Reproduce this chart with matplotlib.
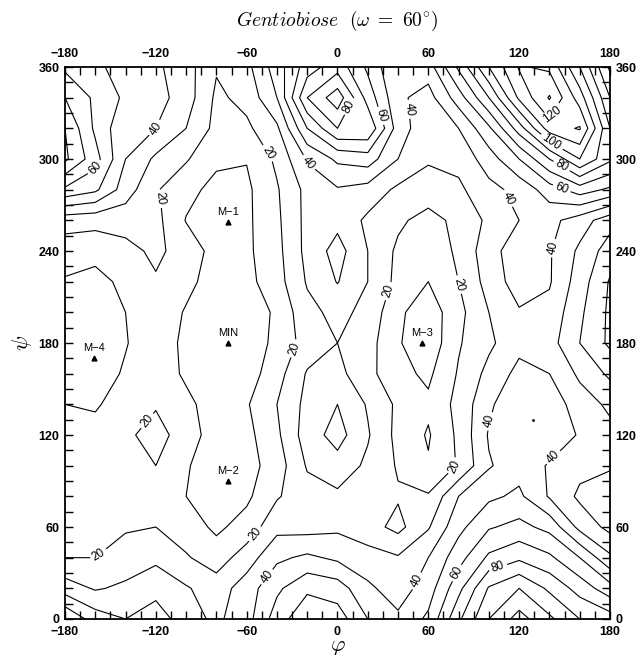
import numpy as np
import matplotlib

matplotlib.use("Agg")
import matplotlib.pyplot as plt

plt.rcParams["mathtext.fontset"] = "cm"

# map grid (degrees)
phi_deg = list(range(-180, 181, 20))
psi_deg = list(range(0, 361, 20))

# relative energy, one row per psi, from psi = 360 down to psi = 0
energy_top_down = [
    [58, 52, 46, 42, 34, 21, 27, 45, 65, 76, 58, 40, 45, 72, 100, 121, 118, 90, 58],
    [70, 58, 48, 44, 35, 18, 23, 40, 80, 96, 66, 42, 36, 55, 80, 112, 131, 105, 70],
    [80, 58, 42, 40, 30, 17, 18, 28, 60, 80, 79, 45, 33, 40, 58, 85, 115, 121, 80],
    [82, 64, 40, 28, 21, 12, 10.5, 22, 41, 52, 55, 40, 31, 33, 45, 60, 80, 100, 82],
    [58, 52, 35, 21, 13, 7, 8, 19, 33, 39, 36, 28, 26, 28, 37, 43, 55, 65, 58],
    [24, 23, 24, 23, 9.5, 4, 8, 18, 33, 37, 28, 22, 16, 23, 32, 40, 43, 35, 24],
    [15, 14, 17, 22, 16, 6, 8, 17, 33, 44, 30, 18, 13, 22, 36, 46, 41, 28, 15],
    [9, 6, 13, 19, 13, 5, 7, 16, 31, 40.5, 30, 17, 10, 20, 34, 45, 41, 25, 9],
    [8, 5, 10, 17, 9, 2, 3, 12, 27, 33, 27, 12, 4, 17, 30, 39, 37, 22, 8],
    [8, 4, 9.5, 15, 8, 1, 3, 13, 24, 30, 24, 11, 3, 19, 28, 37, 34, 20, 8],
    [9, 6, 11, 17, 8, 2, 5, 16, 31, 33, 23, 13, 8, 21, 33, 43, 40, 28, 18],
    [10, 9, 14, 19, 13, 4, 9, 20, 33, 40, 29, 18, 12, 23, 38, 49, 46, 35, 28],
    [12, 13, 18, 24, 15, 5, 7, 18, 35, 44, 31, 17, 9, 22, 41, 48, 47, 39, 33],
    [14, 14, 16, 20, 11, 4, 6, 15, 31, 36, 28, 19, 11, 21, 39, 46, 39, 33, 31],
    [14, 14, 14, 15, 10, 4, 8, 19, 26, 28, 24, 21, 21, 40, 48, 52, 39, 28, 25],
    [19, 17, 19, 20, 15, 8, 14, 27, 26, 28, 24, 17, 29, 47, 59, 63, 57, 37, 27],
    [20, 20, 24, 28, 21, 15, 25, 38, 42, 38, 34, 31, 40, 56, 72, 78, 72, 60, 42],
    [35, 29, 32, 36, 31, 25, 35, 48, 58, 55, 42, 35, 45, 67, 91, 100, 88, 76, 64],
    [60, 45, 40, 46, 34, 28, 36, 55, 68, 65, 50, 42, 52, 78, 100, 114, 102, 90, 85],
]

plain_levels = [10, 30, 50, 70, 90, 110, 130]
labelled_levels = [20, 40, 60, 80, 100, 120]

minima_names = ["MIN", "M\u22121", "M\u22122", "M\u22123", "M\u22124"]
minima_phi = [-72, -72, -72, 56, -161]
minima_psi = [180, 259, 90, 180, 170]

dot_phi = [129]
dot_psi = [130]

energy = np.array(energy_top_down, dtype=float)[::-1]

fig = plt.figure(figsize=(6.41, 6.59), dpi=100)
ax = fig.add_axes([0.1014, 0.0607, 0.8502, 0.8376])

ax.contour(phi_deg, psi_deg, energy, levels=plain_levels, colors="black",
           linewidths=0.8)
cs = ax.contour(phi_deg, psi_deg, energy, levels=labelled_levels,
                colors="black", linewidths=0.8)

# where the contour values are written on the reference
label_spots = [
    (-118, 319), (-158, 293), (-119, 274), (-44, 305), (-19, 298),
    (12, 332), (28, 328), (42, 332), (147, 326), (142, 312), (149, 297),
    (149, 283), (114, 275), (142, 242), (80, 218), (33, 214), (-33, 178),
    (-134, 136), (104, 128), (79, 98), (143, 105), (-55, 56), (-153, 36),
    (-50, 30), (52, 25), (79, 30), (106, 34),
]
ax.clabel(cs, manual=label_spots, fmt="%d", fontsize=8.5, inline=True,
          inline_spacing=2)
for t in cs.labelTexts:
    t.set_fontfamily("Liberation Sans")

ax.plot(minima_phi, minima_psi, "^", color="black", ms=3.5, lw=0)
for name, x, y in zip(minima_names, minima_phi, minima_psi):
    ax.text(x, y + 3.5, name, ha="center", va="bottom", fontsize=8,
            family="Liberation Sans")
ax.plot(dot_phi, dot_psi, ".", color="black", ms=2)

ax.set_xlim(-180, 180)
ax.set_ylim(0, 360)
ax.set_xticks(range(-180, 181, 60))
ax.set_yticks(range(0, 361, 60))
ax.set_xticks(range(-180, 181, 10), minor=True)
ax.set_yticks(range(0, 361, 10), minor=True)
ax.tick_params(which="both", direction="in", length=6, width=1.0,
               top=True, right=True, labeltop=True, labelright=True)
ax.tick_params(axis="x", labelsize=9, pad=5)
ax.tick_params(axis="y", labelsize=9, pad=4)
for lab in ax.get_xticklabels() + ax.get_yticklabels():
    lab.set_fontweight("bold")
    lab.set_fontfamily("Liberation Sans")
for s in ax.spines.values():
    s.set_linewidth(1.3)

fig.text(0.5265, 0.968, r"$\mathit{Gentiobiose}\ \ (\omega\ =\ 60^{\circ})$",
         ha="center", va="center", fontsize=14)
fig.text(0.5265, 0.018, r"$\varphi$", ha="center", va="center", fontsize=16)
fig.text(0.035, 0.48, r"$\psi$", ha="center", va="center", fontsize=16,
         rotation=90)

fig.savefig("out.png", dpi=100)
